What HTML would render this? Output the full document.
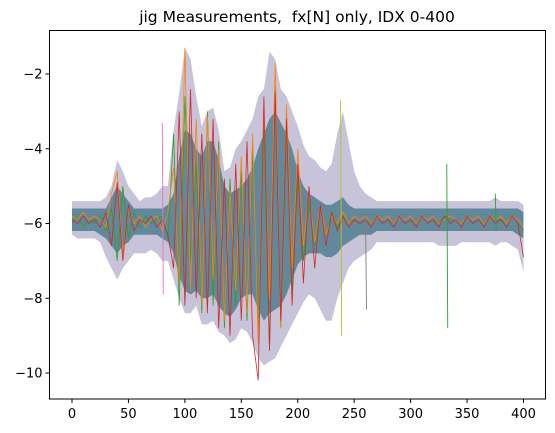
<!DOCTYPE html>
<html><head><meta charset="utf-8">
<style>
html,body{margin:0;padding:0;background:#fff;}
svg{display:block;font-family:"DejaVu Sans","Liberation Sans",sans-serif;}
text{white-space:pre;}
</style></head>
<body>
<svg id="chart" width="555" height="433" viewBox="0 0 555 433">
<text x="297" y="22" text-anchor="middle" font-size="15.5" fill="#000" xml:space="preserve">jig Measurements,  fx[N] only, IDX 0-400</text>
<g id="plot"></g>
<g id="axes"></g>
</svg>
<script>
const xTicks=[0,50,100,150,200,250,300,350,400];
const yTicks=[-10,-8,-6,-4,-2];
const xs=[];for(let i=0;i<=80;i++)xs.push(i*5);
const upper=[-5.4,-5.4,-5.4,-5.4,-5.4,-5.4,-5.3,-5.0,-4.3,-4.6,-5.0,-5.2,-5.4,-5.3,-5.3,-5.2,-5.0,-5.0,-3.5,-2.5,-1.3,-1.6,-2.6,-3.4,-3.0,-2.9,-3.5,-4.6,-4.5,-4.0,-3.8,-3.5,-3.2,-2.6,-2.4,-1.4,-1.6,-2.4,-2.6,-3.0,-3.4,-3.9,-4.2,-4.3,-4.5,-4.6,-4.4,-3.6,-3.0,-3.8,-4.6,-5.0,-5.2,-5.3,-5.4,-5.4,-5.4,-5.4,-5.4,-5.4,-5.4,-5.4,-5.4,-5.4,-5.4,-5.4,-5.4,-5.4,-5.4,-5.4,-5.4,-5.4,-5.4,-5.4,-5.4,-5.3,-5.4,-5.4,-5.4,-5.4,-5.5];
const lower=[-6.3,-6.4,-6.4,-6.4,-6.4,-6.5,-6.9,-7.2,-7.5,-7.2,-7.0,-6.8,-6.8,-6.8,-6.7,-6.8,-7.0,-7.0,-7.5,-8.0,-8.4,-8.4,-8.2,-8.7,-8.7,-8.6,-8.9,-9.0,-9.2,-9.1,-8.8,-8.9,-9.2,-9.6,-9.8,-9.7,-9.6,-9.3,-9.0,-8.7,-8.4,-8.1,-7.9,-8.0,-8.3,-8.6,-8.6,-8.0,-7.6,-7.2,-7.0,-6.9,-6.8,-6.7,-6.5,-6.5,-6.5,-6.5,-6.5,-6.5,-6.5,-6.5,-6.5,-6.5,-6.5,-6.6,-6.6,-6.6,-6.6,-6.5,-6.5,-6.5,-6.5,-6.5,-6.5,-6.6,-6.5,-6.5,-6.6,-6.7,-7.3];
const coreUpper=[-5.6,-5.6,-5.6,-5.6,-5.6,-5.6,-5.6,-5.3,-5.0,-5.2,-5.4,-5.6,-5.6,-5.6,-5.6,-5.6,-5.6,-5.5,-5.2,-4.2,-3.5,-3.6,-4.0,-4.2,-3.8,-3.8,-4.3,-5.0,-5.2,-5.1,-5.0,-4.8,-4.5,-4.0,-3.6,-3.2,-3.0,-3.3,-3.6,-4.0,-4.6,-5.0,-5.2,-5.3,-5.4,-5.5,-5.5,-5.4,-5.3,-5.5,-5.6,-5.6,-5.6,-5.6,-5.6,-5.6,-5.6,-5.6,-5.6,-5.6,-5.6,-5.6,-5.6,-5.6,-5.6,-5.6,-5.6,-5.6,-5.6,-5.6,-5.6,-5.6,-5.6,-5.6,-5.6,-5.6,-5.6,-5.6,-5.6,-5.6,-5.7];
const coreLower=[-6.2,-6.2,-6.2,-6.2,-6.2,-6.3,-6.4,-6.6,-6.8,-6.6,-6.5,-6.3,-6.3,-6.3,-6.3,-6.3,-6.4,-6.5,-6.8,-7.4,-7.8,-7.9,-7.8,-8.0,-8.0,-7.9,-8.2,-8.4,-8.5,-8.3,-8.0,-7.9,-7.9,-8.3,-8.6,-8.4,-8.3,-8.2,-7.9,-7.5,-7.1,-6.9,-6.8,-6.8,-6.8,-6.9,-6.9,-6.8,-6.6,-6.5,-6.4,-6.3,-6.3,-6.3,-6.2,-6.2,-6.2,-6.2,-6.2,-6.2,-6.2,-6.2,-6.2,-6.2,-6.2,-6.2,-6.2,-6.2,-6.2,-6.2,-6.2,-6.2,-6.2,-6.2,-6.2,-6.2,-6.2,-6.2,-6.2,-6.3,-6.4];
const seriesOrange=[-5.8,-5.9,-5.7,-5.9,-5.8,-5.9,-6.1,-5.2,-4.6,-6.8,-5.6,-6.0,-5.8,-6.1,-5.9,-5.8,-6.2,-5.7,-4.5,-7.6,-1.3,-7.8,-3.2,-8.2,-3.1,-7.5,-4.0,-8.6,-5.1,-7.8,-4.2,-8.4,-3.6,-9.2,-3.0,-8.0,-1.7,-8.8,-2.8,-7.2,-4.0,-6.6,-5.2,-6.5,-5.5,-6.3,-5.8,-6.0,-5.7,-6.0,-5.8,-5.9,-5.8,-6.0,-5.8,-5.9,-5.8,-6.0,-5.8,-5.9,-5.8,-6.0,-5.8,-5.9,-5.8,-6.0,-5.9,-5.8,-5.9,-6.0,-5.8,-5.9,-5.8,-6.0,-5.8,-5.9,-5.8,-6.0,-5.8,-5.9,-6.1];
const seriesRed=[-5.9,-6.0,-5.8,-6.0,-5.9,-6.1,-5.7,-6.6,-4.9,-7.0,-5.5,-6.2,-5.9,-6.0,-5.8,-6.1,-5.9,-6.3,-7.2,-3.0,-8.2,-2.4,-8.0,-3.6,-8.4,-3.2,-8.8,-4.8,-9.0,-4.4,-8.6,-3.8,-9.0,-10.2,-2.6,-9.4,-2.5,-8.6,-3.2,-8.2,-4.4,-7.6,-5.0,-7.2,-5.5,-6.6,-5.7,-6.2,-5.8,-6.1,-5.9,-6.0,-5.9,-6.1,-5.8,-6.0,-5.9,-6.1,-5.8,-6.0,-5.9,-6.1,-5.8,-6.0,-5.9,-6.1,-5.8,-6.0,-5.9,-6.1,-5.8,-6.0,-5.9,-6.1,-5.8,-6.0,-5.9,-6.1,-5.8,-6.0,-6.9];
const seriesGreen=[-6.0,-5.8,-6.1,-5.9,-6.0,-5.8,-6.2,-5.6,-7.0,-5.0,-6.4,-5.7,-6.1,-5.8,-6.0,-5.9,-5.8,-6.4,-3.6,-8.2,-2.6,-7.0,-4.4,-8.4,-3.0,-8.2,-3.8,-8.8,-4.8,-8.2,-4.6,-8.6,-4.0,-8.8,-3.4,-9.4,-2.4,-8.8,-3.4,-7.8,-4.8,-7.0,-5.4,-6.6,-5.6,-6.3,-5.7,-6.1,-5.8,-6.0,-5.9,-6.0,-5.9,-6.0,-5.8,-6.0,-5.9,-6.0,-5.8,-6.0,-5.9,-6.0,-5.8,-6.0,-5.9,-6.0,-5.8,-5.9,-5.9,-6.0,-5.8,-6.0,-5.9,-6.0,-5.8,-5.9,-5.9,-6.0,-5.8,-6.0,-6.2];
const spikeX=[80,238,260,332,375];
const spikeTop=[-3.3,-2.7,-5.6,-4.4,-5.2];
const spikeBottom=[-7.9,-9.0,-8.3,-8.8,-6.2];
const spikeColors=['#e377c2','#bcbd22','#7f7f7f','#2ca02c','#2ca02c'];

const L=49.5,R=545.5,T=30.5,B=399;
function X(v){return 72+v*(523.5-72)/400;}
function Y(v){return 74+(v+2)*(373-74)/(-8);}
const NS="http://www.w3.org/2000/svg";
const plot=document.getElementById('plot');
const axes=document.getElementById('axes');
function mk(tag,attrs,parent){const e=document.createElementNS(NS,tag);for(const k in attrs)e.setAttribute(k,attrs[k]);parent.appendChild(e);return e;}
function band(up,lo,fill,op){
  let d='';
  xs.forEach((x,i)=>{d+=(i?'L':'M')+X(x).toFixed(1)+','+Y(up[i]).toFixed(1);});
  for(let i=xs.length-1;i>=0;i--)d+='L'+X(xs[i]).toFixed(1)+','+Y(lo[i]).toFixed(1);
  return mk('path',{d:d+'Z',fill:fill,'fill-opacity':op},plot);
}
const env=band(upper,lower,'#a29cc0',0.6);


const core=band(coreUpper,coreLower,'#4f7f8f',0.85);


function line(vals,color,name){
  let d='';vals.forEach((v,i)=>{d+=(i?'L':'M')+X(xs[i]).toFixed(1)+','+Y(v).toFixed(1);});
  const p=mk('path',{d:d,fill:'none',stroke:color,'stroke-width':0.8},plot);
  
  
}
line(seriesGreen,'#2ca02c','series-green');
line(seriesOrange,'#ff7f0e','series-orange');
line(seriesRed,'#d62728','series-red');
spikeX.forEach((sx,i)=>{
  const s=mk('line',{x1:X(sx),x2:X(sx)+1,y1:Y(spikeTop[i]),y2:Y(spikeBottom[i]),stroke:spikeColors[i],'stroke-width':0.9},plot);
  
  
});

const frame=mk('rect',{x:L,y:T,width:R-L,height:B-T,fill:'none',stroke:'#000','stroke-width':1},axes);


xTicks.forEach(t=>{
  const x=X(t);
  const tk=mk('line',{x1:x,x2:x,y1:B,y2:B+4,stroke:'#000','stroke-width':1},axes);
  
  
  const lb=mk('text',{x:x,y:B+19,'text-anchor':'middle','font-size':13,fill:'#000'},axes);
  lb.textContent=String(t);
  
  
});
yTicks.forEach(t=>{
  const y=Y(t);
  const tk=mk('line',{x1:L-4,x2:L,y1:y,y2:y,stroke:'#000','stroke-width':1},axes);
  
  
  const lb=mk('text',{x:L-7,y:y+4.5,'text-anchor':'end','font-size':13,fill:'#000'},axes);
  lb.textContent=String(t).replace('-','\u2212');
  
  
});
</script>
</body></html>
